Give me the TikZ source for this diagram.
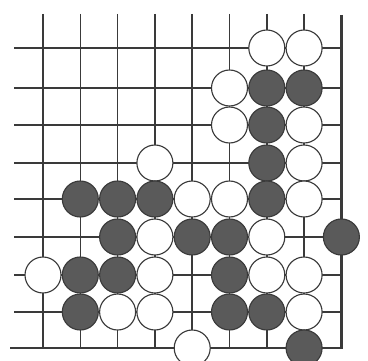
\documentclass[tikz,border=0pt]{standalone}
\usepackage{tikz}
\definecolor{goBlack}{HTML}{5A5A5A}
\definecolor{goLine}{HTML}{3A3A3A}
\tikzset{
  goline/.style={draw=goLine, line width=1pt},
  goedge/.style={draw=goLine, line width=2pt},
  gostone/.style={circle, draw=goLine, line width=0.8pt, minimum size=0.9cm, inner sep=0pt},
  wstone/.style={gostone, fill=white},
  bstone/.style={gostone, fill=goBlack},
}
\newcommand{\gocol}[1]{43+37.3*(#1-1)}
\newcommand{\gorow}[1]{{48,88,125,163,199,237,275,312,348}[#1-1]}
\begin{document}
\begin{tikzpicture}[x=0.025cm, y=-0.025cm]
  \useasboundingbox (0,0) rectangle (368,361);
  % grid lines
  \foreach \c in {1,...,8}
    \draw[goline] ({\gocol{\c}},14) -- ({\gocol{\c}},348);
  \foreach \r in {1,...,8}
    \draw[goline] (14,{\gorow{\r}}) -- (341,{\gorow{\r}});
  % board edges
  \draw[goedge] (341.4,15) -- (341.4,348) -- (10,348);
  % stones
  \foreach \c/\r in {7/1, 8/1, 6/2, 6/3, 8/3, 4/4, 8/4, 5/5, 6/5, 8/5, 4/6, 7/6,
                     1/7, 4/7, 7/7, 8/7, 3/8, 4/8, 8/8, 5/9}
    \node[wstone] (w\c\r) at ({\gocol{\c}},{\gorow{\r}}) {};
  \foreach \c/\r in {7/2, 8/2, 7/3, 7/4, 2/5, 3/5, 4/5, 7/5, 3/6, 5/6, 6/6, 9/6,
                     2/7, 3/7, 6/7, 2/8, 6/8, 7/8, 8/9}
    \node[bstone] (b\c\r) at ({\gocol{\c}},{\gorow{\r}}) {};
\end{tikzpicture}
\end{document}
